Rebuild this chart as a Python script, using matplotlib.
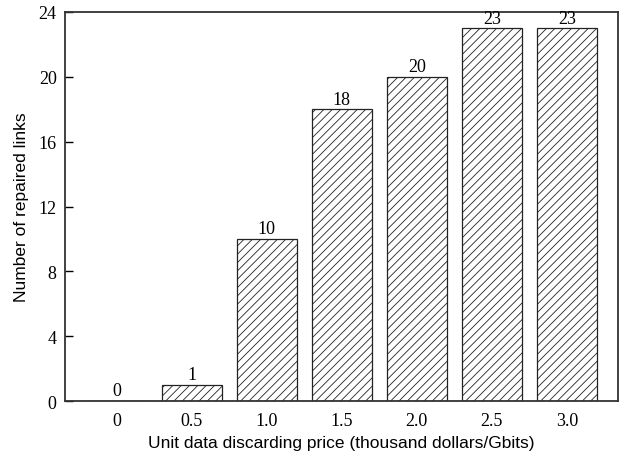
import numpy as np
import matplotlib
matplotlib.use("Agg")
import matplotlib.pyplot as plt

prices = ["0", "0.5", "1.0", "1.5", "2.0", "2.5", "3.0"]
repaired = [0, 1, 10, 18, 20, 23, 23]
y_ticks = [0, 4, 8, 12, 16, 20, 24]

plt.rcParams['hatch.linewidth'] = 0.6
plt.rcParams['hatch.color'] = '#333333'

fig = plt.figure(figsize=(6.21, 4.56), dpi=100)
ax = fig.add_axes([0.1047, 0.1184, 0.8903, 0.8531])

x = np.arange(len(prices))
bars = ax.bar(x, repaired, width=0.8, color='white', edgecolor='#222222',
              hatch='////', linewidth=0.9)

serif = ['Liberation Serif', 'DejaVu Serif']
for xi, v in zip(x, repaired):
    ax.text(xi, v + 0.1, str(v), ha='center', va='bottom',
            fontsize=13, family=serif)

ax.set_xlim(-0.69, 6.68)
ax.set_ylim(0, 24)
ax.set_xticks(x)
ax.set_xticklabels(prices, family=serif, fontsize=13)
ax.set_yticks(y_ticks)
ax.set_yticklabels([str(t) for t in y_ticks], family=serif, fontsize=13)
ax.tick_params(axis='x', length=0, pad=8)
ax.tick_params(axis='y', direction='in', length=6, width=1, pad=6)

for s in ax.spines.values():
    s.set_linewidth(1.3)
    s.set_color('#333333')

ax.set_xlabel('Unit data discarding price (thousand dollars/Gbits)',
              family=['Liberation Sans', 'DejaVu Sans'], fontsize=12.5, labelpad=4)
ax.set_ylabel('Number of repaired links',
              family=['Liberation Sans', 'DejaVu Sans'], fontsize=12.5, labelpad=7)

fig.savefig('out.png', dpi=100)
